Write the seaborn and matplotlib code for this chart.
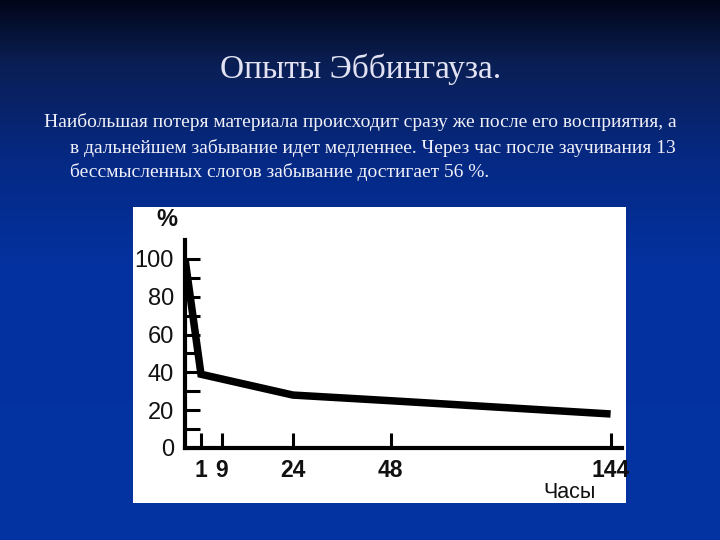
import numpy as np
import pandas as pd
import matplotlib
matplotlib.use("Agg")
import matplotlib.pyplot as plt
import seaborn as sns
from matplotlib.colors import LinearSegmentedColormap
from matplotlib.patches import Rectangle

# ---- data ----
title = "Опыты Эббингауза."
para_lines = [
    "Наибольшая потеря материала происходит сразу же после его восприятия, а",
    "в дальнейшем забывание идет медленнее. Через час после заучивания 13",
    "бессмысленных слогов забывание достигает 56 %.",
]
hours = [0, 1, 24, 48, 144]
retained = [100, 39, 28, 25, 18]
x_ticks = [1, 9, 24, 48, 144]
y_ticks = [0, 20, 40, 60, 80, 100]
y_minor = [10, 30, 50, 70, 90]
x_label = "Часы"
y_label = "%"

df = pd.DataFrame({"hours": hours, "retained": retained})

sns.set_style("white")
plt.rcParams["font.family"] = ["Liberation Sans", "DejaVu Sans"]

fig = plt.figure(figsize=(7.2, 5.4), dpi=100)

# background gradient
bg = fig.add_axes([0, 0, 1, 1])
bg.set_axis_off()
cmap = LinearSegmentedColormap.from_list(
    "slide",
    [(0.0, "#02061a"), (0.11, "#0a1e52"), (0.30, "#052985"), (0.5, "#0332a0"), (1.0, "#0333a2")],
)
grad = np.linspace(0, 1, 540).reshape(-1, 1)
bg.imshow(grad, aspect="auto", cmap=cmap, extent=[0, 720, 540, 0])
bg.set_xlim(0, 720)
bg.set_ylim(540, 0)

# title and paragraph
bg.text(361, 69, title, color="#e2e2f2", fontsize=24, ha="center", va="center",
        family=["Liberation Serif"])
pfs = 14.0
bg.text(44, 122, para_lines[0], color="#f0f0f8", fontsize=pfs, ha="left", va="center",
        family=["Liberation Serif"])
bg.text(70, 148, para_lines[1], color="#f0f0f8", fontsize=pfs, ha="left", va="center",
        family=["Liberation Serif"])
bg.text(70, 172, para_lines[2], color="#f0f0f8", fontsize=pfs, ha="left", va="center",
        family=["Liberation Serif"])

# white panel
bg.add_patch(Rectangle((133, 207), 493, 296, facecolor="white", edgecolor="none"))

# chart axes
ax = fig.add_axes([185 / 720, (540 - 448) / 540, (622 - 185) / 720, 208 / 540])
ax.set_facecolor("white")

H = [0, 1, 9, 24, 48, 144, 200]
P = [0, 16, 37, 108, 206, 426, 554]

def fwd(x):
    return np.interp(x, H, P)

def inv(p):
    return np.interp(p, P, H)

ax.set_xscale("function", functions=(fwd, inv))

sns.lineplot(data=df, x="hours", y="retained", ax=ax, color="black", linewidth=5.4,
             solid_joinstyle="miter", solid_capstyle="butt")

ax.set_xlim(0, 149)
ax.set_ylim(0, 110)
ax.set_xticks(x_ticks)
ax.set_xticklabels([str(t) for t in x_ticks], fontsize=16.5, fontweight="bold")
ax.set_yticks(y_ticks)
ax.set_yticklabels([str(t) for t in y_ticks], fontsize=17)
ax.set_yticks(y_minor, minor=True)
ax.xaxis.set_minor_locator(matplotlib.ticker.NullLocator())
ax.tick_params(axis="both", which="both", direction="in", color="black", width=2.2,
               length=11, labelcolor="#111111", bottom=True, left=True)
ax.tick_params(axis="y", which="major", pad=8)
ax.tick_params(axis="x", which="major", pad=8)
ax.set_xlabel("")
ax.set_ylabel("")
for s in ["top", "right"]:
    ax.spines[s].set_visible(False)
for s in ["left", "bottom"]:
    ax.spines[s].set_linewidth(3)
    ax.spines[s].set_color("black")

bg.text(167, 219, y_label, fontsize=17, ha="center", va="center", color="#111111",
        fontweight="bold", zorder=5)
fig.text(570 / 720, 1 - 492 / 540, x_label, fontsize=15.5, ha="center", va="center",
         color="#111111", zorder=5)

fig.savefig("out.png", dpi=100)
